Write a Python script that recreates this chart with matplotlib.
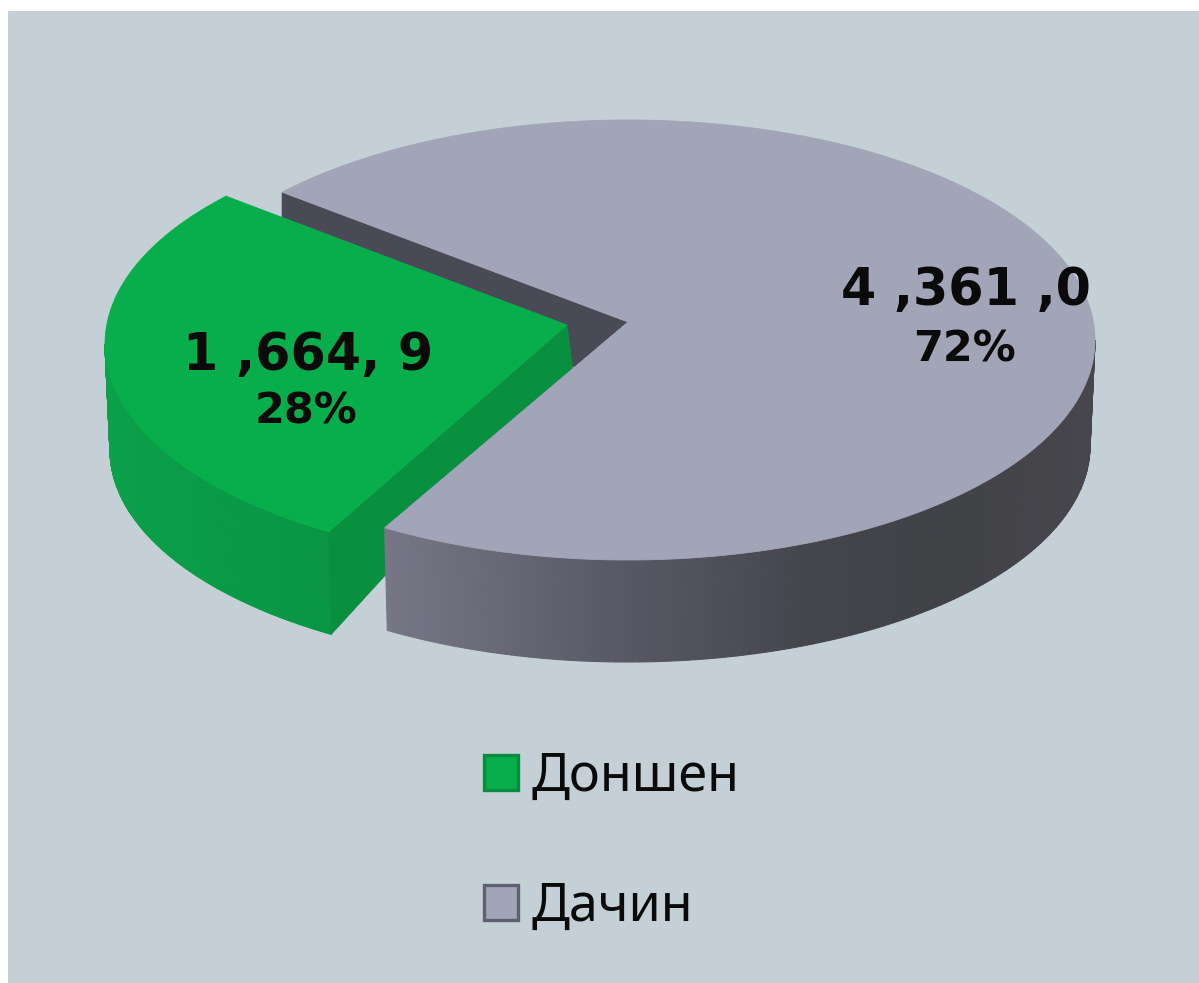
import numpy as np
import matplotlib
matplotlib.use('Agg')
import matplotlib.pyplot as plt
from matplotlib.patches import Patch

# Data
categories = ['Доншен', 'Дачин']
shares = [28, 72]
value_labels = ['1 ,664, 9', '4 ,361 ,0']
share_labels = ['28%', '72%']

# Colours
BG = '#c5d0d6'
GREEN_TOP = '#09ae4c'
GREEN_FACE = '#09903f'
GRAY_TOP = '#a2a5b8'
GRAY_WALL = '#4a4a57'
TEXT = '#0a0a0a'

# Pie geometry, in picture pixels
START = 137.8
TOP_A, TOP_B = 467, 220
BOT_A, BOT_B = 462, 216
DROP = 106                 # bottom ellipse centre sits this far below the top one
APEX_UP = 18               # apex sits above the ellipse centre (perspective)
gray_c = (628, 340)
green_c = (572, 344)


def rim(c, a, b, deg):
    t = np.radians(deg)
    return np.column_stack([c[0] + a * np.cos(t), c[1] - b * np.sin(t)])


def side_strips(ax, c, t0, t1, xs, colors, z):
    # shaded outer wall, built from thin vertical strips
    rgb = np.array([matplotlib.colors.to_rgb(col) for col in colors])
    angles = np.linspace(t0, t1, 160)
    up = rim(c, TOP_A, TOP_B, angles)
    down = rim((c[0], c[1] + DROP), BOT_A, BOT_B, angles)
    for i in range(len(angles) - 1):
        mid = (up[i, 0] + up[i + 1, 0]) / 2
        col = [np.interp(mid, xs, rgb[:, k]) for k in range(3)]
        pts = np.array([up[i], up[i + 1], down[i + 1], down[i]])
        ax.fill(pts[:, 0], pts[:, 1], color=col, lw=0.8, zorder=z)


fig = plt.figure(figsize=(11.99, 9.83), dpi=100, facecolor='white')
ax = fig.add_axes([8 / 1199, 0, 1191 / 1199, 972 / 983], facecolor=BG)
ax.set_xlim(8, 1199)
ax.set_ylim(983, 11)
ax.set_xticks([])
ax.set_yticks([])
for spine in ax.spines.values():
    spine.set_visible(False)

split = START + 360 * shares[0] / sum(shares)

# Wall of the Дачин slice, seen through the gap
apex = np.array([gray_c[0], gray_c[1] - APEX_UP])
rim_a = rim(gray_c, TOP_A, TOP_B, [START])[0]
rim_b = rim(gray_c, TOP_A, TOP_B, [split])[0]
wall = np.array([rim_a, apex, apex + 0.22 * (rim_b - apex), rim_a + [0, 40]])
ax.fill(wall[:, 0], wall[:, 1], color=GRAY_WALL, lw=0.5, zorder=1)

# Доншен slice: outer side, cut face, then top
side_strips(ax, green_c, 180, split, [105, 330], ['#0ba04a', '#099544'], 2)
g_top = rim(green_c, TOP_A, TOP_B, [split])[0]
g_bot = rim((green_c[0], green_c[1] + DROP), BOT_A, BOT_B, [split])[0]
g_apex = (567, 325)
face = np.array([g_top, g_bot, [573, 370], g_apex])
ax.fill(face[:, 0], face[:, 1], color=GREEN_FACE, lw=0.5, zorder=3)
pts = np.vstack([[g_apex], rim(green_c, TOP_A, TOP_B, np.linspace(START, split, 120))])
ax.fill(pts[:, 0], pts[:, 1], color=GREEN_TOP, lw=0.6, zorder=4)

# Дачин slice sits in front of the green cut face
side_strips(ax, gray_c, split, 360,
            [387, 500, 600, 720, 800, 950, 1090],
            ['#767686', '#686876', '#5a5b68', '#4e4f5a', '#45464d', '#414246', '#46464c'], 5)
pts = np.vstack([[apex], rim(gray_c, TOP_A, TOP_B, np.linspace(split, START + 360, 300))])
ax.fill(pts[:, 0], pts[:, 1], color=GRAY_TOP, lw=0.6, zorder=6)

# Labels
ax.text(308, 370, value_labels[0], ha='center', va='baseline', fontsize=36.5,
        fontweight='bold', color=TEXT, zorder=7)
ax.text(306, 424, share_labels[0], ha='center', va='baseline', fontsize=31,
        fontweight='bold', color=TEXT, zorder=7)
ax.text(966, 305, value_labels[1], ha='center', va='baseline', fontsize=36.5,
        fontweight='bold', color=TEXT, zorder=7)
ax.text(965, 361, share_labels[1], ha='center', va='baseline', fontsize=31,
        fontweight='bold', color=TEXT, zorder=7)

# Legend
handles = [Patch(facecolor=GREEN_TOP, edgecolor='#0b8a40', lw=2.4),
           Patch(facecolor=GRAY_TOP, edgecolor='#5f6070', lw=2.4)]
ax.legend(handles, categories, loc='upper left', bbox_to_anchor=(484 / 1199, 1 - 751 / 983),
          bbox_transform=fig.transFigure, frameon=False, labelcolor=TEXT,
          prop={'family': 'Noto Sans', 'size': 37.5},
          handlelength=0.66, handleheight=0.66, handletextpad=0.25, labelspacing=1.47,
          borderpad=0, borderaxespad=0)

fig.savefig('out.png', dpi=100, facecolor='white')
